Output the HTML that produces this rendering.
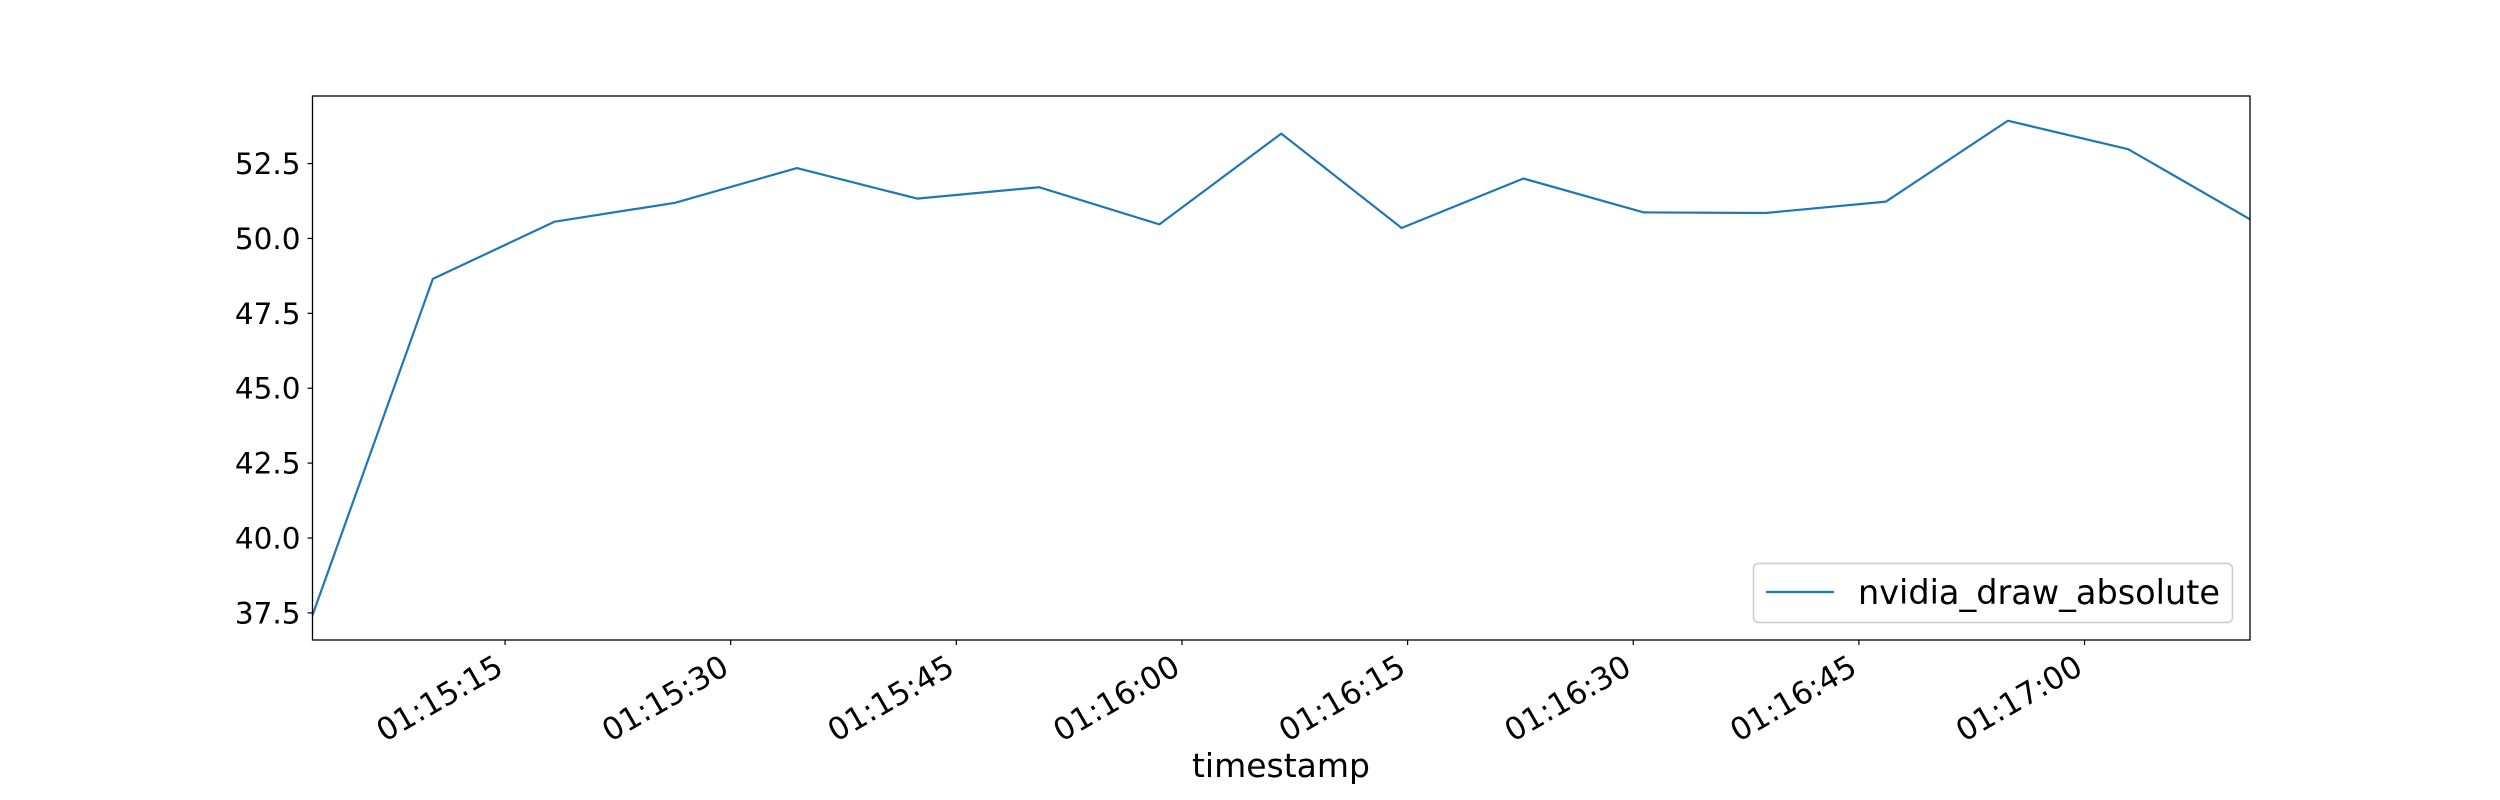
<!DOCTYPE html>
<html><head><meta charset="utf-8">
<style>
html,body{margin:0;padding:0;background:#fff;}
svg{display:block;font-family:"DejaVu Sans","Liberation Sans",sans-serif;}
</style></head>
<body>
<svg id="chart" width="2500" height="800" viewBox="0 0 2500 800">
  <rect x="0" y="0" width="2500" height="800" fill="#fff"/>
  <g id="series"></g>
  <rect x="312.5" y="96" width="1937.5" height="544" fill="none" stroke="#000" stroke-width="1.3"/>
  <g id="yticks"></g>
  <g id="xticks"></g>
  <text x="1281" y="777" font-size="33" text-anchor="middle">timestamp</text>
  <g>
    <rect x="1753.5" y="563.5" width="479" height="59" rx="5" fill="#fff" stroke="#ccc" stroke-width="1.5"/>
    <line x1="1766" y1="592" x2="1834" y2="592" stroke="#1f77b4" stroke-width="2.2"/>
    <text x="1858" y="604" font-size="33.5">nvidia_draw_absolute</text>
  </g>
</svg>
<script>
// seconds after 01:15:00
const times = [2.2, 10.2, 18.3, 26.3, 34.4, 42.4, 50.5, 58.5, 66.6, 74.6, 82.7, 90.7, 98.8, 106.8, 114.9, 122.9, 131.0];
const values = [37.42, 48.65, 50.56, 51.19, 52.35, 51.33, 51.71, 50.47, 53.50, 50.35, 52.00, 50.87, 50.85, 51.23, 53.93, 52.98, 50.64];
const yTicks = [37.5, 40.0, 42.5, 45.0, 47.5, 50.0, 52.5];
const xTickSecs = [15, 30, 45, 60, 75, 90, 105, 120];
const xTickLabels = ["01:15:15","01:15:30","01:15:45","01:16:00","01:16:15","01:16:30","01:16:45","01:17:00"];

const NS = "http://www.w3.org/2000/svg";
const L = 312.5, R = 2250, T = 96, B = 640;
const tMin = Math.min(...times), tMax = Math.max(...times);
const vMin = Math.min(...values), vMax = Math.max(...values);
const pad = (vMax - vMin) * 0.05;
const yLo = vMin - pad, yHi = vMax + pad;
function xs(t){ return L + (t - tMin) / (tMax - tMin) * (R - L); }
function ys(v){ return B - (v - yLo) / (yHi - yLo) * (B - T); }

const series = document.getElementById("series");
const pl = document.createElementNS(NS, "polyline");
pl.setAttribute("points", times.map((t,i)=>xs(t).toFixed(2)+","+ys(values[i]).toFixed(2)).join(" "));
pl.setAttribute("fill","none");
pl.setAttribute("stroke","#1f77b4");
pl.setAttribute("stroke-width","2.2");
pl.setAttribute("stroke-linejoin","round");


series.appendChild(pl);

const yg = document.getElementById("yticks");
yTicks.forEach(v => {
  const y = ys(v);
  const tk = document.createElementNS(NS, "line");
  tk.setAttribute("x1", L - 5); tk.setAttribute("x2", L);
  tk.setAttribute("y1", y); tk.setAttribute("y2", y);
  tk.setAttribute("stroke", "#000"); tk.setAttribute("stroke-width", "1.2");
  
  
  yg.appendChild(tk);
  const tx = document.createElementNS(NS, "text");
  tx.setAttribute("x", L - 12); tx.setAttribute("y", y + 10.5);
  tx.setAttribute("font-size", "29.5"); tx.setAttribute("text-anchor", "end");
  tx.textContent = v.toFixed(1);
  
  
  yg.appendChild(tx);
});

const xg = document.getElementById("xticks");
xTickSecs.forEach((s, i) => {
  const x = xs(s);
  const tk = document.createElementNS(NS, "line");
  tk.setAttribute("x1", x); tk.setAttribute("x2", x);
  tk.setAttribute("y1", B); tk.setAttribute("y2", B + 5);
  tk.setAttribute("stroke", "#000"); tk.setAttribute("stroke-width", "1.2");
  
  
  xg.appendChild(tk);
  const tx = document.createElementNS(NS, "text");
  tx.setAttribute("transform", "translate(" + (x - 12) + "," + (B + 12) + ") rotate(-30)");
  tx.setAttribute("font-size", "31"); tx.setAttribute("text-anchor", "end");
  tx.setAttribute("dy", "24");
  tx.textContent = xTickLabels[i];
  
  
  xg.appendChild(tx);
});
</script>
</body></html>
